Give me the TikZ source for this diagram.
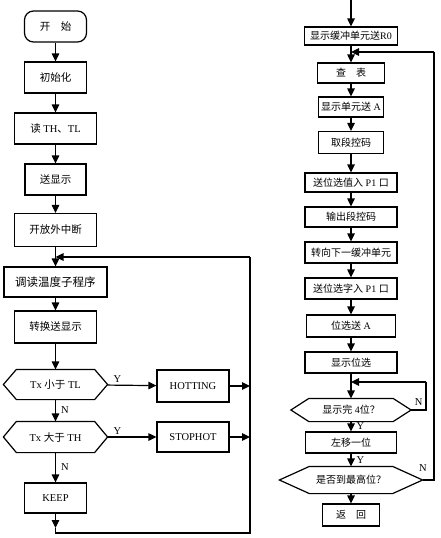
\documentclass[tikz,border=0pt]{standalone}
\usepackage{fontspec}
\setmainfont{Liberation Serif}
\newfontfamily\cjk{Noto Sans CJK SC}
\usetikzlibrary{arrows.meta}
\newcommand\zh[1]{{\cjk #1}}
\newcommand\hexa[2]{\draw (#1.west) -- ([xshift=#2pt]#1.north west) -- ([xshift=-#2pt]#1.north east) -- (#1.east) -- ([xshift=-#2pt]#1.south east) -- ([xshift=#2pt]#1.south west) -- cycle;}
\begin{document}
\begin{tikzpicture}[x=1pt,y=-1pt, line width=1.2pt,
  box/.style={draw, inner sep=0pt, font=\fontsize{10.5}{12}\selectfont},
  rbox/.style={draw, inner sep=0pt, font=\fontsize{10}{12}\selectfont},
  hexnode/.style={inner sep=0pt},
  arr/.style={-{Triangle[length=8pt,width=7.5pt]}},
  lab/.style={font=\fontsize{10.5}{12}\selectfont, inner sep=0pt}]
\useasboundingbox (0,0) rectangle (440,538);
% left column
\node[box, rounded corners=9pt, minimum width=62, minimum height=31] (start) at (55.5,26.5) {\zh{开\quad 始}\hspace{11pt}};
\node[box, minimum width=62, minimum height=31] (init) at (55.5,77.5) {\zh{初始化}\hspace{16pt}};
\node[box, minimum width=82, minimum height=31] (read) at (55.5,128.5) {\zh{读}~TH\zh{、}TL\hspace{13pt}};
\node[box, minimum width=61, minimum height=31] (send) at (55.5,179.5) {\zh{送显示}\hspace{16pt}};
\node[box, minimum width=82, minimum height=33] (intr) at (55.5,230) {\zh{开放外中断}\hspace{16pt}};
\node[box, minimum width=103, minimum height=30, font=\fontsize{11.5}{13}\selectfont] (call) at (55.5,282) {\zh{调读温度子程序}\hspace{11pt}};
\node[box, minimum width=82, minimum height=32] (conv) at (55.5,327) {\zh{转换送显示}\hspace{15pt}};
\node[hexnode, font=\fontsize{10.5}{12}\selectfont, minimum width=103, minimum height=29] (d1) at (55.5,384.5) {Tx \zh{小于} TL};
\hexa{d1}{13}
\node[box, minimum width=72, minimum height=32] (hot) at (193,386) {HOTTING\hspace{6pt}};
\node[hexnode, font=\fontsize{10.5}{12}\selectfont, minimum width=103, minimum height=30] (d2) at (55.5,437) {Tx \zh{大于} TH};
\hexa{d2}{13}
\node[box, minimum width=72, minimum height=30] (stop) at (193,437) {STOPHOT\hspace{8pt}};
\node[box, minimum width=62, minimum height=30] (keep) at (55.5,498) {KEEP\hspace{6pt}};

\draw[arr] (start) -- (init);
\draw[arr] (init) -- (read);
\draw[arr] (read) -- (send);
\draw[arr] (send) -- (intr);
\draw[arr] (intr) -- (call);
\draw[arr] (call) -- (conv);
\draw[arr] (conv) -- (d1);
\draw[arr] (d1) -- node[lab, right=5pt]{N} (d2);
\draw[arr] (d2) -- node[lab, right=5pt]{N} (keep);
\draw[arr] (d1) -- node[lab, pos=0.2, above=2pt]{Y} (hot);
\draw[arr] (d2) -- node[lab, pos=0.2, above=2pt]{Y} (stop);
\coordinate (lt) at (250,257);
\coordinate (lb) at (250,533);
\coordinate (kb) at (55.5,533);
\coordinate (ka) at (55.5,528);
\coordinate (la) at (55.5,257);
\draw[arr] (keep) -- (ka);
\draw (ka) -- (kb) -- (lb) -- (lt);
\draw[arr] (lt) -- (la);
\draw[arr] (hot) -- (hot.east -| lt);
\draw[arr] (stop) -- (stop.east -| lt);

% right column
\coordinate (top) at (351,0);
\node[rbox, minimum width=93, minimum height=18] (r0) at (351,36) {\zh{显示缓冲单元送}R0};
\node[rbox, minimum width=67, minimum height=20] (cha) at (351,73) {\zh{查\quad 表}};
\node[rbox, minimum width=65, minimum height=20] (sa) at (351,107) {\zh{显示单元送}~A};
\node[rbox, minimum width=65, minimum height=22] (duan) at (351,142.5) {\zh{取段控码}};
\node[rbox, minimum width=92, minimum height=19] (p1a) at (351,182.5) {\zh{送位选值入}~P1~\zh{口}};
\node[rbox, minimum width=92, minimum height=20] (out) at (351,217) {\zh{输出段控码}};
\node[rbox, minimum width=92, minimum height=21] (nxt) at (351,252.5) {\zh{转向下一缓冲单元}};
\node[rbox, minimum width=92, minimum height=21] (p1b) at (351,288.5) {\zh{送位选字入}~P1~\zh{口}};
\node[rbox, minimum width=89, minimum height=22] (pa) at (351,326) {\zh{位选送}~A};
\node[rbox, minimum width=92, minimum height=21] (disp) at (351,362.5) {\zh{显示位选}};
\node[hexnode, font=\fontsize{10}{12}\selectfont, minimum width=119, minimum height=22] (d3) at (351,410) {\zh{显示完}~4\zh{位？}};
\hexa{d3}{18}
\node[rbox, minimum width=91, minimum height=21] (sh) at (351,442.5) {\zh{左移一位}};
\node[hexnode, font=\fontsize{10}{12}\selectfont, minimum width=142, minimum height=26] (d4) at (351,480) {\zh{是否到最高位？}};
\hexa{d4}{30}
\node[rbox, minimum width=57, minimum height=22] (ret) at (351,515) {\zh{返\quad 回}};

\draw[arr] (top) -- (r0);
\draw[arr] (r0) -- (cha);
\draw[arr] (cha) -- (sa);
\draw[arr] (sa) -- (duan);
\draw[arr] (duan) -- (p1a);
\draw[arr] (p1a) -- (out);
\draw[arr] (out) -- (nxt);
\draw[arr] (nxt) -- (p1b);
\draw[arr] (p1b) -- (pa);
\draw[arr] (pa) -- (disp);
\draw[arr] (disp) -- (d3);
\draw[arr] (d3) -- node[lab, right=5pt]{Y} (sh);
\draw[arr] (sh) -- node[lab, right=5pt]{Y} (d4);
\draw[arr] (d4) -- (ret);
\coordinate (c1) at (426,382);
\coordinate (c2) at (434,52);
\draw (d3.east) -- node[lab, above=4pt]{N} (d3.east -| c1) -- (c1);
\draw[arr] (c1) -- (c1 -| disp);
\draw (d4.east) -- (d4.east -| c2) -- (c2);
\node[lab] (n2) at (423,468) {N};
\draw[arr] (c2) -- (c2 -| r0);
\end{tikzpicture}
\end{document}
